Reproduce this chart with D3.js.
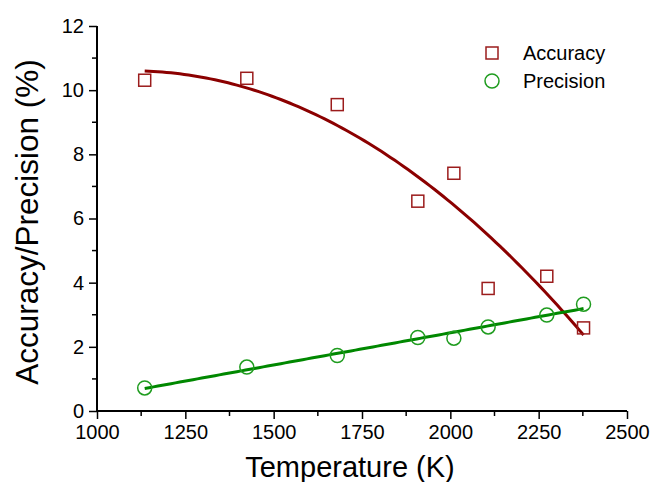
<!DOCTYPE html>
<html>
<head>
<meta charset="utf-8">
<script src="https://cdn.jsdelivr.net/npm/d3@7"></script>
<style>
  html, body { margin: 0; padding: 0; background: #fff; }
  svg { display: block; font-family: "Liberation Sans", Arial, sans-serif; }
</style>
</head>
<body>
<svg id="chart" width="652" height="482"></svg>
<script>
// Measured temperatures (K) and the two error metrics (%)
const temperature = [1135, 1424, 1680, 1908, 2010, 2107, 2273, 2377];
const accuracy    = [10.31, 10.37, 9.55, 6.54, 7.41, 3.82, 4.20, 2.59];
const precision   = [0.72, 1.37, 1.73, 2.29, 2.27, 2.62, 2.99, 3.33];

const xTicks = [1000, 1250, 1500, 1750, 2000, 2250, 2500];
const yTicks = [0, 2, 4, 6, 8, 10, 12];
const seriesNames = ["Accuracy", "Precision"];

const colAcc = "#8b0000", colAccMark = "#9b1c1c";
const colPre = "#008800", colPreMark = "#1f9c1f";

const svg = d3.select("#chart");
const plotLeft = 97, plotRight = 627, plotTop = 26, plotBottom = 411;

const x = d3.scaleLinear().domain([1000, 2500]).range([plotLeft, plotRight]);
const y = d3.scaleLinear().domain([0, 12]).range([plotBottom, plotTop]);

// Least-squares polynomial fit (normal equations, Gauss-Jordan elimination)
function polyfit(xs, ys, deg) {
  const n = deg + 1, xm = d3.mean(xs), xsd = 1000;
  const u = xs.map(v => (v - xm) / xsd);
  const A = Array.from({length: n}, () => new Array(n + 1).fill(0));
  for (let i = 0; i < u.length; i++) {
    for (let r = 0; r < n; r++) {
      for (let c = 0; c < n; c++) A[r][c] += Math.pow(u[i], r + c);
      A[r][n] += ys[i] * Math.pow(u[i], r);
    }
  }
  for (let k = 0; k < n; k++) {
    let p = k;
    for (let r = k + 1; r < n; r++) if (Math.abs(A[r][k]) > Math.abs(A[p][k])) p = r;
    [A[k], A[p]] = [A[p], A[k]];
    for (let r = 0; r < n; r++) {
      if (r === k) continue;
      const f = A[r][k] / A[k][k];
      for (let c = k; c <= n; c++) A[r][c] -= f * A[k][c];
    }
  }
  const coef = A.map((row, i) => row[n] / row[i]);
  return t => coef.reduce((s, c, i) => s + c * Math.pow((t - xm) / xsd, i), 0);
}

const accFit = polyfit(temperature, accuracy, 2);
const preFit = polyfit(temperature, precision, 1);
const tMin = d3.min(temperature), tMax = d3.max(temperature);
const tGrid = d3.range(0, 101).map(i => tMin + (tMax - tMin) * i / 100);

const line = d3.line().x(d => x(d[0])).y(d => y(d[1]));

// Fit curves
svg.append("path")
  .attr("d", line(tGrid.map(t => [t, accFit(t)])))
  .attr("fill", "none").attr("stroke", colAcc).attr("stroke-width", 3);
svg.append("path")
  .attr("d", line(tGrid.map(t => [t, preFit(t)])))
  .attr("fill", "none").attr("stroke", colPre).attr("stroke-width", 3);

// Markers
const sq = 12;
svg.append("g").selectAll("rect").data(temperature).join("rect")
  .attr("x", (d) => x(d) - sq / 2)
  .attr("y", (d, i) => y(accuracy[i]) - sq / 2)
  .attr("width", sq).attr("height", sq)
  .attr("fill", "none").attr("stroke", colAccMark).attr("stroke-width", 1.5);
svg.append("g").selectAll("circle").data(temperature).join("circle")
  .attr("cx", d => x(d))
  .attr("cy", (d, i) => y(precision[i]))
  .attr("r", 7)
  .attr("fill", "none").attr("stroke", colPreMark).attr("stroke-width", 1.5);

// Axes
const xAxis = d3.axisBottom(x).tickValues(xTicks).tickSize(8).tickPadding(6).tickFormat(d3.format("d"));
const yAxis = d3.axisLeft(y).tickValues(yTicks).tickSize(8).tickPadding(5).tickFormat(d3.format("d"));

const gx = svg.append("g").attr("transform", `translate(0,${plotBottom})`).call(xAxis);
const gy = svg.append("g").attr("transform", `translate(${plotLeft},0)`).call(yAxis);

[gx, gy].forEach(g => {
  g.select(".domain").attr("stroke", "#000").attr("stroke-width", 2);
  g.selectAll(".tick line").attr("stroke", "#000").attr("stroke-width", 1.5);
  g.selectAll(".tick text").attr("fill", "#000").attr("font-size", 20)
    .attr("font-family", "Liberation Sans, Arial, sans-serif");
});
gx.select(".domain").attr("d", `M${plotLeft},0H${plotRight}`);
gy.select(".domain").attr("d", `M0,${plotBottom}V${plotTop}`);

// Minor ticks
const xMinor = d3.range(1125, 2500, 250);
const yMinor = d3.range(1, 12, 2);
gx.append("g").selectAll("line").data(xMinor).join("line")
  .attr("x1", d => x(d)).attr("x2", d => x(d)).attr("y1", 0).attr("y2", 5)
  .attr("stroke", "#000").attr("stroke-width", 1.5);
gy.append("g").selectAll("line").data(yMinor).join("line")
  .attr("y1", d => y(d)).attr("y2", d => y(d)).attr("x1", 0).attr("x2", -5)
  .attr("stroke", "#000").attr("stroke-width", 1.5);

// Axis titles
svg.append("text")
  .attr("x", (plotLeft + plotRight) / 2 - 12).attr("y", 477)
  .attr("text-anchor", "middle").attr("font-size", 29).attr("fill", "#000")
  .text("Temperature (K)");
svg.append("text")
  .attr("transform", `translate(38,222) rotate(-90)`)
  .attr("text-anchor", "middle").attr("font-size", 31.5).attr("fill", "#000")
  .text("Accuracy/Precision (%)");

// Legend
const legend = svg.append("g");
legend.append("rect")
  .attr("x", 492 - sq / 2).attr("y", 53 - sq / 2).attr("width", sq).attr("height", sq)
  .attr("fill", "none").attr("stroke", colAccMark).attr("stroke-width", 1.5);
legend.append("circle")
  .attr("cx", 492).attr("cy", 81).attr("r", 7)
  .attr("fill", "none").attr("stroke", colPreMark).attr("stroke-width", 1.5);
legend.selectAll("text").data(seriesNames).join("text")
  .attr("x", 523).attr("y", (d, i) => 53 + i * 28)
  .attr("dy", "0.35em").attr("font-size", 20).attr("fill", "#000")
  .text(d => d);
</script>
</body>
</html>
